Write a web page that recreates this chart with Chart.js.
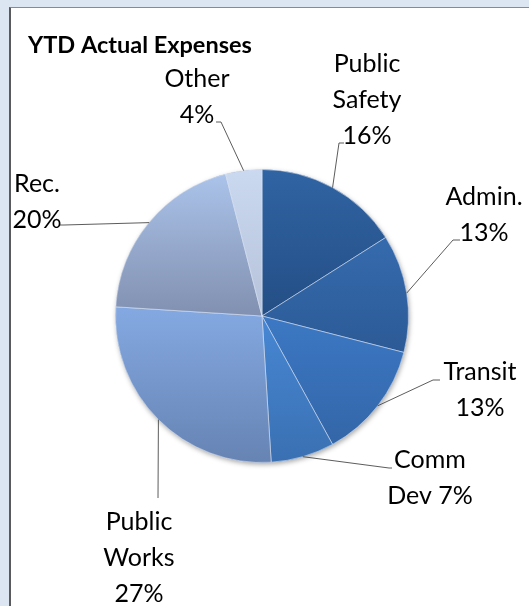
<!DOCTYPE html>
<html>
<head>
<meta charset="utf-8">
<title>YTD Actual Expenses</title>
<script src="https://cdn.jsdelivr.net/npm/chart.js@4.4.1/dist/chart.umd.min.js"></script>
<style>
  html, body { margin: 0; padding: 0; }
  body { width: 529px; height: 606px; background: #dce6f2; position: relative; overflow: hidden; }
  #panel {
    position: absolute; left: 9px; top: 7px; width: 600px; height: 700px;
    background: #fff; border-left: 2px solid #5a5a5a; border-top: 1px solid #8a8a8a;
  }
  #expenseChart { position: absolute; left: 0; top: 0; }
</style>
</head>
<body>
<div id="panel"></div>
<canvas id="expenseChart" width="529" height="606"></canvas>
<script>
// Expense share by department, clockwise from 12 o'clock
const categories = ['Public Safety', 'Admin.', 'Transit', 'Comm Dev', 'Public Works', 'Rec.', 'Other'];
const percents = [16, 13, 13, 7, 27, 20, 4];

// slice gradients, top colour -> bottom colour
const sliceTop = ['#3064a3', '#356bae', '#3c78c4', '#4787d4', '#84a9e2', '#abc3ea', '#cad8f0'];
const sliceBottom = ['#244e85', '#2c5a96', '#3366a8', '#3a70b2', '#6683b3', '#8190b0', '#b5c2da'];

// label placement: centre x, first baseline y
const labelAnchors = [[367, 72], [484, 205], [480, 380], [430, 468], [139, 530], [37, 192], [197, 87]];
// leader elbow x, y and the x where its short tick ends
const leaderElbows = [[339, 143, 344], [453, 240, 460], [433, 380, 440], [389, 468, 392], [158, 498, 158], [64, 225, 60], [221, 122, 216]];

const FONT = 'Lato, "Open Sans", sans-serif';
const LABEL_SIZE = 25;
const LINE_HEIGHT = 36;
const WRAP_WIDTH = 88;

function sliceFill(context) {
  const i = context.dataIndex;
  const chart = context.chart;
  const area = chart.chartArea;
  if (!area || i === undefined) return sliceTop[i || 0];
  const cx = (area.left + area.right) / 2;
  const cy = (area.top + area.bottom) / 2;
  const r = Math.min(area.right - area.left, area.bottom - area.top) / 2;
  const total = percents.reduce((a, b) => a + b, 0);
  const before = percents.slice(0, i).reduce((a, b) => a + b, 0);
  const a0 = -Math.PI / 2 + 2 * Math.PI * before / total;
  const a1 = a0 + 2 * Math.PI * percents[i] / total;
  const ys = [cy, cy + r * Math.sin(a0), cy + r * Math.sin(a1)];
  if (a0 < Math.PI / 2 && a1 > Math.PI / 2) ys.push(cy + r);
  const g = chart.ctx.createLinearGradient(0, Math.min(...ys), 0, Math.max(...ys));
  g.addColorStop(0, sliceTop[i]);
  g.addColorStop(1, sliceBottom[i]);
  return g;
}

function wrapText(ctx, text, maxWidth) {
  const words = text.split(' ');
  const lines = [];
  let line = '';
  words.forEach(w => {
    const test = line ? line + ' ' + w : w;
    if (line && ctx.measureText(test).width > maxWidth) {
      lines.push(line);
      line = w;
    } else {
      line = test;
    }
  });
  if (line) lines.push(line);
  return lines;
}

// soft drop shadow under the pie
const pieShadow = {
  id: 'pieShadow',
  beforeDatasetsDraw(chart) {
    const arc = chart.getDatasetMeta(0).data[0];
    if (!arc) return;
    const { x, y, outerRadius } = arc.getProps(['x', 'y', 'outerRadius'], true);
    const ctx = chart.ctx;
    ctx.save();
    ctx.shadowColor = 'rgba(0,0,0,0.35)';
    ctx.shadowBlur = 5;
    ctx.shadowOffsetX = 1;
    ctx.shadowOffsetY = 2;
    ctx.fillStyle = '#6a84b0';
    ctx.beginPath();
    ctx.arc(x, y, outerRadius, 0, Math.PI * 2);
    ctx.fill();
    ctx.restore();
  }
};

// title, outside labels and leader lines
const outsideLabels = {
  id: 'outsideLabels',
  afterDraw(chart) {
    const ctx = chart.ctx;
    ctx.save();
    ctx.fillStyle = '#000';
    ctx.font = `bold 23.5px ${FONT}`;
    ctx.textAlign = 'left';
    ctx.textBaseline = 'alphabetic';
    ctx.fillText('YTD Actual Expenses', 28, 53);

    const meta = chart.getDatasetMeta(0);
    meta.data.forEach((arc, i) => {
      const { x, y, startAngle, endAngle, outerRadius } =
        arc.getProps(['x', 'y', 'startAngle', 'endAngle', 'outerRadius'], true);
      const mid = (startAngle + endAngle) / 2;
      const px = x + Math.cos(mid) * outerRadius;
      const py = y + Math.sin(mid) * outerRadius;
      const [ex, ey, tx] = leaderElbows[i];
      ctx.strokeStyle = '#4a4a4a';
      ctx.lineWidth = 0.9;
      ctx.beginPath();
      ctx.moveTo(px, py);
      ctx.lineTo(ex, ey);
      ctx.lineTo(tx, ey);
      ctx.stroke();

      ctx.font = `${LABEL_SIZE}px ${FONT}`;
      ctx.textAlign = 'center';
      ctx.fillStyle = '#000';
      const lines = wrapText(ctx, `${categories[i]} ${percents[i]}%`, WRAP_WIDTH);
      const [lx, ly] = labelAnchors[i];
      lines.forEach((t, k) => ctx.fillText(t, lx, ly + k * LINE_HEIGHT));
    });
    ctx.restore();
  }
};

new Chart(document.getElementById('expenseChart'), {
  type: 'pie',
  data: {
    labels: categories,
    datasets: [{
      data: percents,
      backgroundColor: sliceFill,
      borderColor: 'rgba(225,233,246,0.55)',
      borderWidth: 1
    }]
  },
  options: {
    responsive: false,
    animation: false,
    events: [],
    layout: { padding: { left: 115, right: 120, top: 169, bottom: 143 } },
    plugins: {
      legend: { display: false },
      tooltip: { enabled: false }
    }
  },
  plugins: [pieShadow, outsideLabels]
});
</script>
</body>
</html>
